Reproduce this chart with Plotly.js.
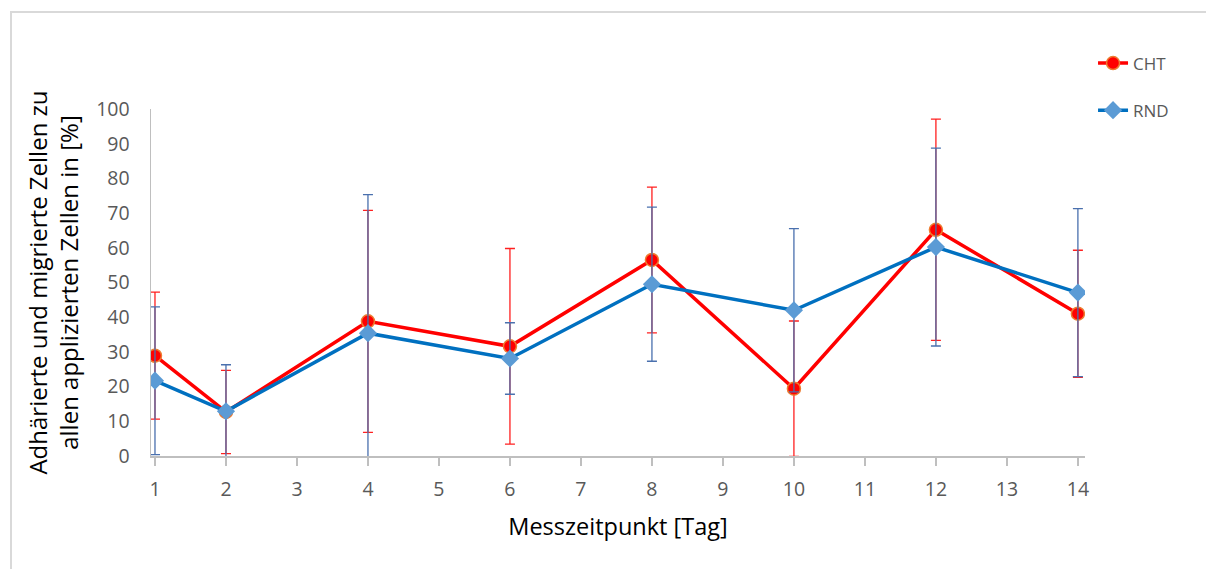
<!DOCTYPE html>
<html>
<head>
<meta charset="utf-8">
<script src="https://cdn.plot.ly/plotly-3.0.1.min.js"></script>
<style>
  html, body { margin: 0; padding: 0; background: #ffffff; }
  #frame { position: absolute; left: 10px; top: 11px; width: 1300px; height: 700px;
           border-left: 2px solid #d9d9d9; border-top: 2px solid #d9d9d9; box-sizing: border-box; }
  #chart { position: absolute; left: 0; top: 0; width: 1206px; height: 569px; }
</style>
</head>
<body>
<div id="frame"></div>
<div id="chart"></div>
<script>
// Measurement days
const days = [1, 2, 4, 6, 8, 10, 12, 14];
// CHT: mean and standard deviation [%]
const chtMean = [28.9, 12.7, 38.8, 31.6, 56.5, 19.4, 65.2, 41.0];
const chtSD   = [18.3, 12.0, 32.0, 28.2, 21.0, 19.5, 31.9, 18.3];
// RND: mean and standard deviation [%]
const rndMean = [21.7, 12.9, 35.4, 28.1, 49.5, 42.0, 60.2, 47.1];
const rndSD   = [21.3, 13.4, 39.9, 10.3, 22.2, 23.5, 28.5, 24.2];
const seriesNames = ["CHT", "RND"];

const font = "'Open Sans', Lato, 'Liberation Sans', sans-serif";

const traces = [
  {
    x: days, y: chtMean, name: seriesNames[0], type: "scatter", mode: "lines+markers",
    legendgroup: "a",
    line: { color: "#ff0000", width: 3.5 },
    marker: { symbol: "circle", size: 13, color: "#ff0000", line: { color: "#ed7d31", width: 1.5 } },
    error_y: { type: "data", array: chtSD, visible: true, color: "#ff2020", thickness: 1.3, width: 5 }
  },
  {
    x: days, y: rndMean, name: seriesNames[1], type: "scatter", mode: "lines+markers",
    legendgroup: "b",
    line: { color: "#0070c0", width: 3.5 },
    marker: { symbol: "diamond", size: 14, color: "#5b9bd5", line: { width: 0 } },
    error_y: { type: "data", array: rndSD, visible: true, color: "#4a70ae", thickness: 1.3, width: 5 }
  }
];

const layout = {
  width: 1206, height: 569,
  paper_bgcolor: "rgba(0,0,0,0)", plot_bgcolor: "rgba(0,0,0,0)",
  margin: { l: 151, r: 121, t: 109, b: 112.5 },
  font: { family: font, color: "#595959" },
  showlegend: true,
  legend: {
    x: 1.0086, xanchor: "left", y: 1.183, yanchor: "top",
    font: { family: font, size: 17, color: "#595959" },
    tracegroupgap: 22, bgcolor: "rgba(0,0,0,0)"
  },
  xaxis: {
    range: [0.944, 14.1], tickmode: "linear", tick0: 1, dtick: 1,
    showgrid: false, zeroline: false, showline: true, linecolor: "#bfbfbf", linewidth: 1.5,
    ticks: "outside", ticklen: 8, tickwidth: 1.5, tickcolor: "#bfbfbf",
    ticklabelstandoff: 7,
    tickfont: { family: font, size: 19.5, color: "#595959" },
    title: { text: "Messzeitpunkt [Tag]", font: { family: font, size: 23.5, color: "#000000" }, standoff: 17 }
  },
  xaxis2: {
    overlaying: "x", matches: "x", range: [0.944, 14.1], tickmode: "linear", tick0: 1, dtick: 1,
    showgrid: false, zeroline: false, showline: false, showticklabels: false,
    ticks: "inside", ticklen: 8, tickwidth: 1.5, tickcolor: "#bfbfbf"
  },
  yaxis: {
    range: [0, 100], tickmode: "linear", tick0: 0, dtick: 10,
    showgrid: false, zeroline: false, showline: true, linecolor: "#bfbfbf", linewidth: 1.5,
    ticks: "", ticklabelstandoff: 16,
    tickfont: { family: font, size: 19.5, color: "#595959" },
    title: { text: "Adhärierte und migrierte Zellen zu<br>allen applizierten Zellen in [%]",
             font: { family: font, size: 24, color: "#000000" }, standoff: 10 }
  }
};

Plotly.newPlot("chart", traces, layout, { displayModeBar: false, staticPlot: true });
</script>
</body>
</html>
